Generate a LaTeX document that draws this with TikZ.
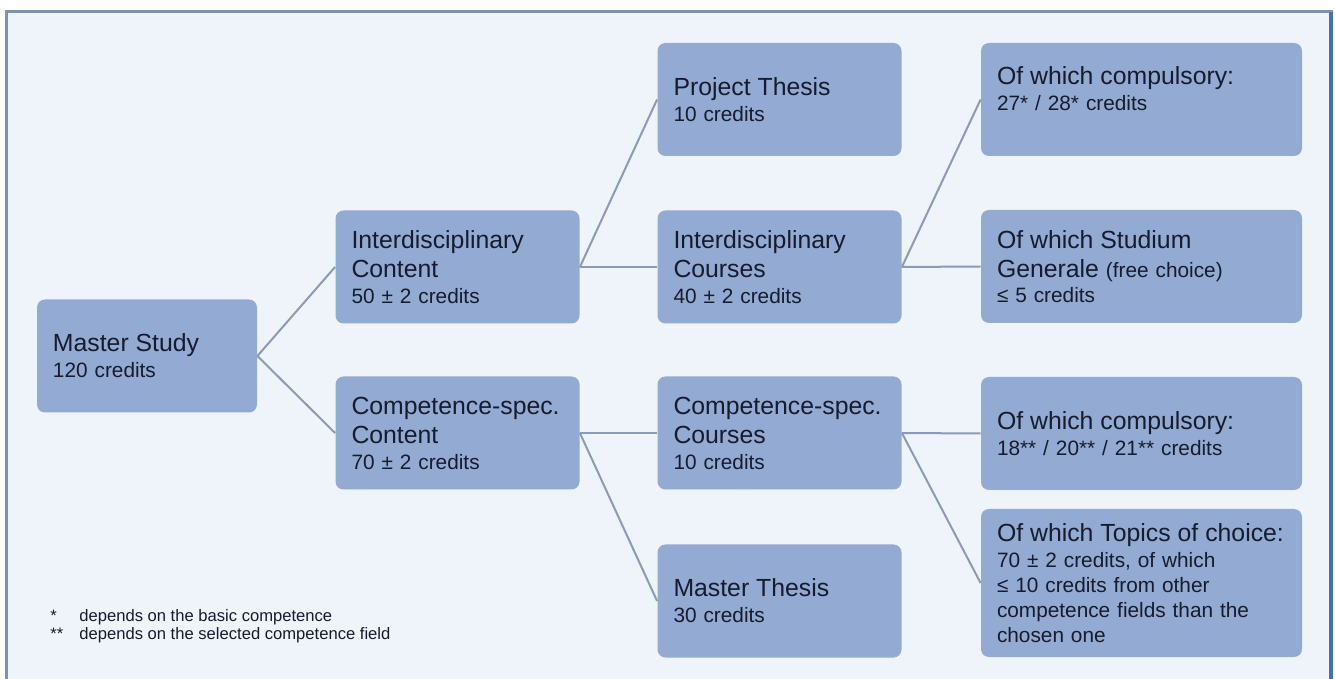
\documentclass[tikz,border=0pt]{standalone}
\usepackage{fontspec}
\setmainfont{Liberation Sans}
\usepackage{xcolor}
\usetikzlibrary{positioning}

\definecolor{boxblue}{HTML}{93AAD3}
\definecolor{pageblue}{HTML}{EFF3FA}
\definecolor{linkgray}{HTML}{8D9AB4}
\definecolor{inknavy}{HTML}{161B2E}
\definecolor{framegray}{HTML}{7D93B6}
\definecolor{frameblue}{HTML}{3F74B8}

\newcommand{\hd}[1]{{\fontsize{12.4}{14.5}\selectfont #1}}
\newcommand{\lift}{\rule[-11pt]{0pt}{0pt}}

\begin{document}
\begin{tikzpicture}[
  x=0.5pt, y=-0.5pt,
  every node/.style={font=\fontsize{10.4}{12.5}\selectfont, text=inknavy},
  box/.style={fill=boxblue, rounded corners=4pt, align=left,
              inner xsep=8pt, inner ysep=0.5pt, minimum height=56.5pt},
  root/.style={box, text width=94pt},
  mid/.style={box, text width=106pt},
  leaf/.style={box, text width=144.5pt},
  link/.style={draw=linkgray, line width=1pt},
  note/.style={font=\fontsize{8.3}{10}\selectfont, inner sep=0pt}
]

%% page and frame
\useasboundingbox (0,0) rectangle (1335,679);
\fill[white] (0,0) rectangle (1335,679);
\draw[fill=pageblue, draw=framegray, line width=1.5pt] (6,12) rectangle (1331,720);
\draw[frameblue, line width=2pt] (1331,12) -- (1331,679);

%% root
\node[root] (ms) at (147,356) {\hd{Master Study}\\[0.5pt] 120 credits};

%% content blocks
\node[mid] (icont) at (457.5,267) {\hd{Interdisciplinary}\\[2pt]\hd{Content}\\[0.5pt] 50 ± 2 credits};
\node[mid] (ccont) at (457.5,433) {\hd{\mbox{Competence-spec.}}\\[2pt]\hd{Content}\\[0.5pt] 70 ± 2 credits};

%% courses and theses
\node[mid] (pth)   at (779.5,99.5) {\hd{Project Thesis}\\[0.5pt] 10 credits};
\node[mid] (icour) at (779.5,267)  {\hd{Interdisciplinary}\\[2pt]\hd{Courses}\\[0.5pt] 40 ± 2 credits};
\node[mid] (ccour) at (779.5,433)  {\hd{\mbox{Competence-spec.}}\\[2pt]\hd{Courses}\\[0.5pt] 10 credits};
\node[mid] (mth)   at (779.5,601)  {\hd{Master Thesis}\\[0.5pt] 30 credits};

%% breakdown
\node[leaf] (ocomp)  at (1141.5,99.5) {\hd{Of which compulsory:}\\[0.5pt] 27* / 28* credits\lift};
\node[leaf] (stud)   at (1141.5,266.5) {\hd{Of which Studium}\\[2pt]\hd{Generale} (free choice)\\ ≤ 5 credits};
\node[leaf] (ocompb) at (1141.5,433.5) {\hd{Of which compulsory:}\\[0.5pt] 18** / 20** / 21** credits};
\node[leaf, minimum height=74pt] (topics) at (1141.5,583)
  {\hd{Of which Topics of choice:}\\[0.5pt] 70 ± 2 credits, of which\\ ≤ 10 credits from other\\ competence fields than the\\ chosen one};

\foreach \a/\b in {ms/icont, ms/ccont, icont/pth, icont/icour, ccont/ccour,
                   ccont/mth, icour/ocomp, icour/stud, ccour/ocompb, ccour/topics}
  \draw[link] (\a.east) -- (\b.west);

%% footnotes
\node[note, anchor=west] (fn1) at (50,617) {\makebox[14.5pt][l]{*}depends on the basic competence};
\node[note, below=1pt of fn1.south west, anchor=north west] (fn2)
  {\makebox[14.5pt][l]{**}depends on the selected competence field};

\end{tikzpicture}
\end{document}
